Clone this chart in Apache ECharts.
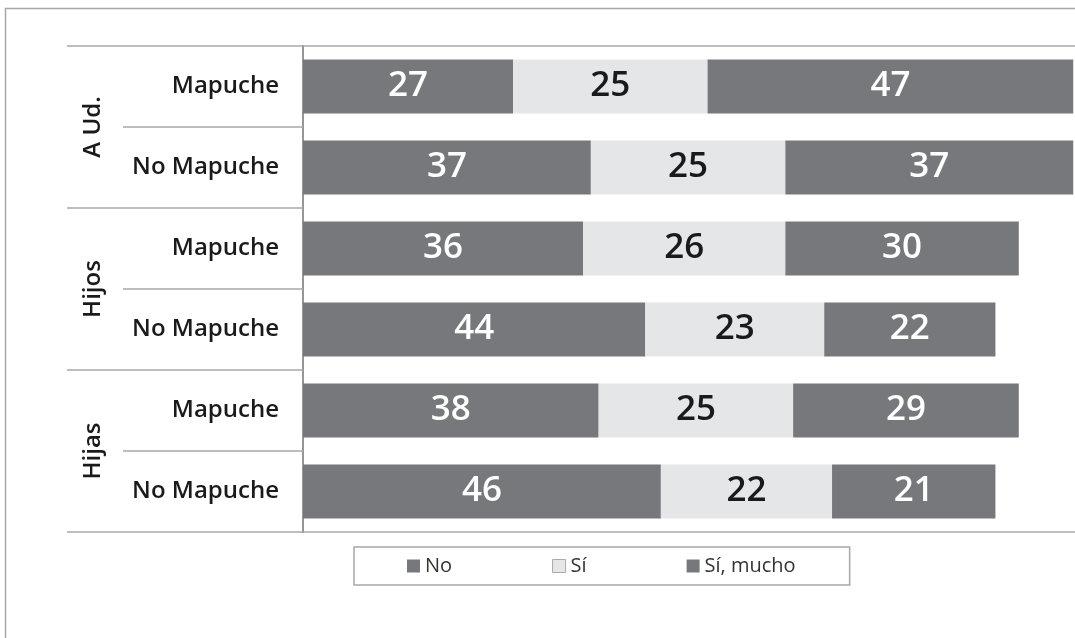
<!DOCTYPE html>
<html>
<head>
<meta charset="utf-8">
<script src="https://cdn.jsdelivr.net/npm/echarts@6/dist/echarts.min.js"></script>
<style>
    html, body { margin: 0; padding: 0; background: #fff; }
    #chart { width: 1075px; height: 638px; }
</style>
</head>
<body>
<div id="chart"></div>
<script>
    var groups = ['A Ud.', 'Hijos', 'Hijas'];
    var rows = ['Mapuche', 'No Mapuche', 'Mapuche', 'No Mapuche', 'Mapuche', 'No Mapuche'];
    var noData = [27, 37, 36, 44, 38, 46];
    var siData = [25, 25, 26, 23, 25, 22];
    var muchoData = [47, 37, 30, 22, 29, 21];

    var dark = '#77787b';
    var light = '#e5e6e8';
    var font = 'Open Sans';

    var myChart = echarts.init(document.getElementById('chart'));

    function barLabel(color) {
        return {
            show: true,
            position: 'inside',
            color: color,
            fontFamily: font,
            fontWeight: 600,
            fontSize: 35
        };
    }

    var option = {
        animation: false,
        graphic: [{
            type: 'rect',
            shape: { x: 5.5, y: 8.5, width: 1100, height: 700 },
            style: { fill: 'none', stroke: '#a8a8a8', lineWidth: 1.5 },
            silent: true
        }],
        grid: {
            left: 303,
            top: 46,
            width: 778,
            height: 486,
            outerBoundsMode: 'none',
            containLabel: false,
            show: true,
            borderColor: '#a8a8a8',
            borderWidth: 1.5
        },
        legend: {
            left: 354,
            top: 547,
            padding: [9, 54, 9, 53],
            itemGap: 100,
            itemWidth: 13,
            itemHeight: 13,
            icon: 'rect',
            borderColor: '#a8a8a8',
            borderWidth: 1.5,
            textStyle: { fontFamily: font, fontSize: 20, color: '#333' },
            data: [
                { name: 'No' },
                { name: 'Sí', itemStyle: { borderColor: '#aaa', borderWidth: 1 } },
                { name: 'Sí, mucho' }
            ]
        },
        xAxis: {
            type: 'value',
            min: 0,
            max: 100,
            show: false
        },
        yAxis: [{
            type: 'category',
            inverse: true,
            data: rows,
            axisLine: { show: true, lineStyle: { color: '#8a8a8a', width: 1.5 } },
            axisTick: { show: true, length: 180, lineStyle: { color: '#a8a8a8', width: 1.5 } },
            axisLabel: {
                margin: 24,
                color: '#1a1a1a',
                fontFamily: font,
                fontWeight: 600,
                fontSize: 24
            }
        }, {
            type: 'category',
            position: 'left',
            inverse: true,
            data: groups,
            axisLine: { show: false },
            axisTick: { show: true, length: 236, lineStyle: { color: '#a8a8a8', width: 1.5 } },
            axisLabel: {
                rotate: 90,
                margin: 198,
                color: '#1a1a1a',
                fontFamily: font,
                fontWeight: 600,
                fontSize: 24
            }
        }],
        series: [{
            name: 'No',
            type: 'bar',
            stack: 'total',
            barWidth: 54,
            itemStyle: { color: dark },
            label: barLabel('#ffffff'),
            data: noData
        }, {
            name: 'Sí',
            type: 'bar',
            stack: 'total',
            barWidth: 54,
            itemStyle: { color: light },
            label: barLabel('#1a1a1a'),
            data: siData
        }, {
            name: 'Sí, mucho',
            type: 'bar',
            stack: 'total',
            barWidth: 54,
            itemStyle: { color: dark },
            label: barLabel('#ffffff'),
            data: muchoData
        }]
    };

    myChart.setOption(option);
</script>
</body>
</html>
